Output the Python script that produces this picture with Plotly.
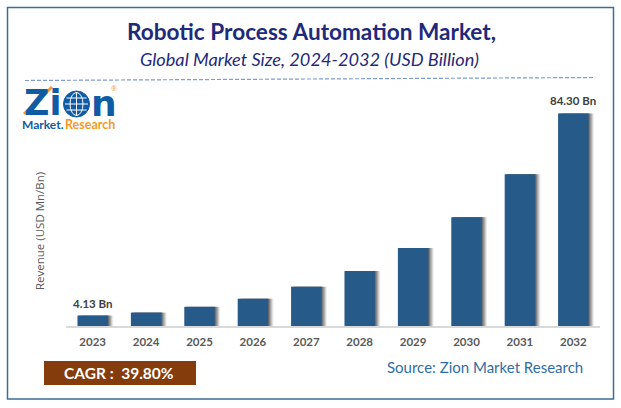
import plotly.graph_objects as go

# values
years = ["2023", "2024", "2025", "2026", "2027", "2028", "2029", "2030", "2031", "2032"]
revenue = [4.13, 5.3, 7.6, 10.8, 15.6, 21.8, 30.9, 43.1, 60.2, 84.3]
bar_labels = ["4.13 Bn", "", "", "", "", "", "", "", "", "84.30 Bn"]

W = 621
H = 408
LEFT = 66
RIGHT = 21
TOP = 99
BOTTOM = 82
BAR_W = 0.57
NAVY = "#1f2a7a"
BLUE = "#265a88"
LOGO_BLUE = "#0f5ca4"
LOGO_ORANGE = "#f59a23"


# paper coordinates are relative to the plot area, so convert from picture pixels
def px(x):
    return (x - LEFT) / (W - LEFT - RIGHT)


def py(y):
    return 1 - (y - TOP) / (H - TOP - BOTTOM)


def label(x, y, text, size, color, bold=False, italic=False, anchor="center", family="Lato", angle=0):
    if bold:
        text = "<b>" + text + "</b>"
    if italic:
        text = "<i>" + text + "</i>"
    fig.add_annotation(x=px(x), y=py(y), xref="paper", yref="paper", text=text, showarrow=False,
                       xanchor=anchor, yanchor="middle", textangle=angle,
                       font=dict(family=family, size=size, color=color))


def paper_shape(kind, x0, y0, x1, y1, **kw):
    fig.add_shape(type=kind, xref="paper", yref="paper", x0=px(x0), x1=px(x1), y0=py(y0), y1=py(y1), **kw)


fig = go.Figure()

# soft shadow on the right side of the bars
for shift, alpha in [(0.10, 0.10), (0.08, 0.18), (0.06, 0.28), (0.035, 0.38), (0.015, 0.45)]:
    fig.add_trace(go.Bar(x=years, y=revenue, width=BAR_W, offset=-BAR_W / 2 + shift,
                         marker=dict(color=f"rgba(70,70,70,{alpha})", line_width=0),
                         hoverinfo="skip", showlegend=False))

fig.add_trace(go.Bar(x=years, y=revenue, width=BAR_W, offset=-BAR_W / 2,
                     marker=dict(color=BLUE, line_width=0), showlegend=False))

fig.update_layout(
    width=W, height=H, barmode="overlay", paper_bgcolor="white", plot_bgcolor="white",
    margin=dict(l=LEFT, r=RIGHT, t=TOP, b=BOTTOM, autoexpand=False),
    xaxis=dict(type="category", categoryorder="array", categoryarray=years, range=[-0.5, 9.5],
               showgrid=False, showline=True, linecolor="#d9d9d9", linewidth=1.5,
               ticks="", ticklabelstandoff=4,
               tickfont=dict(family="Lato", size=11.5, color="#595959", weight="bold")),
    yaxis=dict(range=[0, 90], visible=False),
)

# first and last bar carry a value label, annotations on a category axis take the position index
for i, text in enumerate(bar_labels):
    if text:
        fig.add_annotation(x=i, y=revenue[i], text="<b>" + text + "</b>", showarrow=False, yanchor="bottom",
                           yshift=4, font=dict(family="Lato", size=11.5, color="#404040"))

# frame and dashed divider
paper_shape("rect", 7.5, 7.5, 613.5, 399, line=dict(color="#3d6d94", width=1.5), fillcolor="rgba(0,0,0,0)")
paper_shape("line", 25, 80.5, 594, 77.5, line=dict(color="#7f9cd6", width=1.2, dash="4px,2px"))

# titles
label(311.5, 32, "Robotic Process Automation Market,", 22.6, NAVY, bold=True)
label(309.5, 59, "Global Market Size, 2024-2032 (USD Billion)", 18.2, NAVY, italic=True)
label(39, 231, "Revenue (USD Mn/Bn)", 11.5, "#595959", family="Open Sans", angle=-90)

# logo drawn from text and circles
label(22, 103, "Zi", 35, LOGO_BLUE, bold=True, anchor="left", family="DejaVu Sans")
paper_shape("circle", 63.5, 91, 89.5, 117, line=dict(color=LOGO_BLUE, width=1), fillcolor=LOGO_BLUE)
paper_shape("circle", 70, 92.5, 83, 115.5, line=dict(color="white", width=1), fillcolor="rgba(0,0,0,0)")
paper_shape("line", 76.5, 92, 76.5, 116, line=dict(color="white", width=1))
paper_shape("line", 65, 104, 88, 104, line=dict(color="white", width=1))
paper_shape("line", 66.5, 98, 86.5, 98, line=dict(color="white", width=1))
paper_shape("line", 66.5, 110, 86.5, 110, line=dict(color="white", width=1))
label(89, 103, "n", 36, LOGO_BLUE, bold=True, anchor="left", family="DejaVu Sans")
paper_shape("line", 24, 114, 52, 87, line=dict(color=LOGO_ORANGE, width=3))
label(20, 124, "Market.", 12, LOGO_BLUE, bold=True, anchor="left")
label(63, 124, "Research", 12.5, LOGO_ORANGE, bold=True, anchor="left")
label(114, 88, "®", 7, LOGO_ORANGE, family="Open Sans")

# bottom strip
paper_shape("rect", 44, 361, 196, 385, line_width=0, fillcolor="#843c0c")
label(119, 373, "CAGR :  39.80%", 15.5, "white", bold=True)
label(485, 367, "Source: Zion Market Research", 15, "#2f6ea5")

fig.write_html("out.html", config={"displayModeBar": False},
               post_script="document.body.style.margin='0';document.documentElement.style.overflow='hidden';")
